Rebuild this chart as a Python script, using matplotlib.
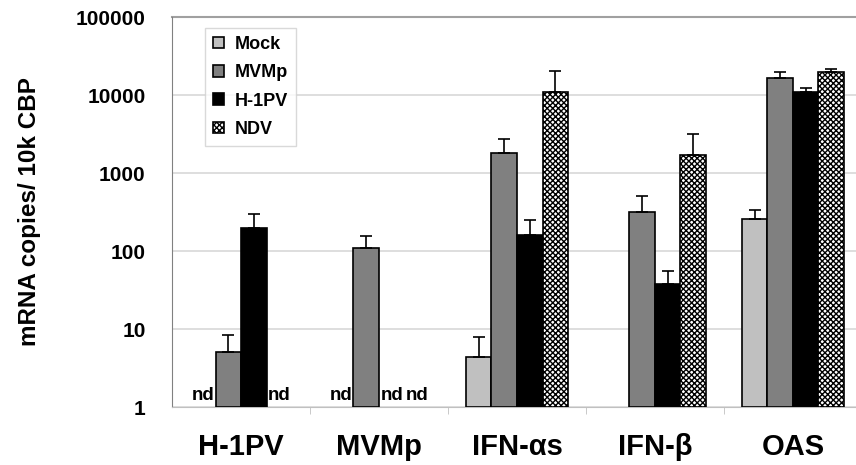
import matplotlib.pyplot as plt
import numpy as np

plt.rcParams['font.family'] = ['Liberation Sans', 'DejaVu Sans']
plt.rcParams['hatch.linewidth'] = 1.0

genes = ['H-1PV', 'MVMp', 'IFN-\u03b1s', 'IFN-\u03b2', 'OAS']
series = ['Mock', 'MVMp', 'H-1PV', 'NDV']
# nan = not detected / not shown
mock = [np.nan, np.nan, 4.4, np.nan, 260]
mvmp = [5.1, 110, 1800, 320, 16500]
h1pv = [200, np.nan, 160, 38, 11000]
ndv = [np.nan, np.nan, 11000, 1700, 19500]
mock_err = [np.nan, np.nan, 7.9, np.nan, 340]
mvmp_err = [8.3, 155, 2700, 500, 19500]
h1pv_err = [300, np.nan, 250, 55, 12200]
ndv_err = [np.nan, np.nan, 20300, 3200, 21300]
nd_marks = [(0, 0), (0, 3), (1, 0), (1, 2), (1, 3)]  # (gene, series)

values = [mock, mvmp, h1pv, ndv]
errs = [mock_err, mvmp_err, h1pv_err, ndv_err]
faces = ['#c0c0c0', '#808080', '#000000', '#ffffff']
hatches = [None, None, None, 'xxxxxx']

fig = plt.figure(figsize=(8.56, 4.65), dpi=100)
ax = fig.add_axes([0.201, 0.1247, 0.799, 0.8387])

x = np.arange(len(genes))
w = 0.185
for i in range(4):
    pos = x + (i - 1.5) * w
    v = np.array(values[i], dtype=float)
    e = np.array(errs[i], dtype=float)
    ax.bar(pos, v - 1, width=w, bottom=1, color=faces[i], edgecolor='black',
           linewidth=1.2, hatch=hatches[i], label=series[i], zorder=3)
    ax.errorbar(pos, v, yerr=[np.zeros_like(v), e - v], fmt='none',
                ecolor='black', elinewidth=1.2, capsize=4, capthick=1.2, zorder=4)

for g, s in nd_marks:
    ax.text(x[g] + (s - 1.5) * w, 1.1, 'nd', ha='center', va='bottom',
            fontsize=13.5, fontweight='bold', zorder=5)

ax.set_yscale('log')
ax.set_ylim(1, 100000)
ax.set_xlim(-0.5, 4.457)
ax.set_yticks([1, 10, 100, 1000, 10000, 100000])
ax.set_yticklabels(['1', '10', '100', '1000', '10000', '100000'],
                   fontsize=15, fontweight='bold')
ax.minorticks_off()
ax.tick_params(axis='y', length=0, pad=19)
ax.set_xticks(x)
ax.set_xticklabels(genes, fontsize=21, fontweight='bold')
ax.tick_params(axis='x', length=0, pad=19)
ax.set_xticks(np.arange(0.5, 4.5, 1), minor=True)
ax.tick_params(axis='x', which='minor', length=5, color='#c0c0c0', direction='out')
ax.yaxis.grid(True, color='#d8d8d8', linewidth=1.2, zorder=0)
ax.set_axisbelow(True)
for sp in ['top', 'right']:
    ax.spines[sp].set_visible(False)
ax.spines['left'].set_color('#808080')
ax.spines['bottom'].set_color('#c0c0c0')
ax.axhline(100000, color='#a0a0a0', linewidth=1.5, zorder=1, clip_on=False)

ax.set_ylabel('mRNA copies/ 10k CBP', fontsize=17.5, fontweight='bold', labelpad=25)

leg = ax.legend(loc='upper left', bbox_to_anchor=(0.035, 0.995), frameon=True,
                fancybox=False, edgecolor='#d0d0d0', handlelength=0.6,
                handleheight=0.6, handletextpad=0.6, labelspacing=0.62,
                borderpad=0.45, prop={'weight': 'bold', 'size': 13})
leg.get_frame().set_linewidth(1.0)

fig.savefig('out.png', dpi=100)
